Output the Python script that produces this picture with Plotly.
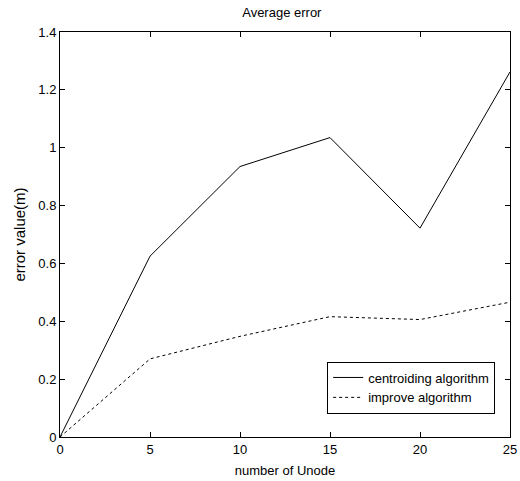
import plotly.graph_objects as go

x_nodes = [0, 5, 10, 15, 20, 25]
centroiding = [0, 0.625, 0.935, 1.035, 0.722, 1.262]
improve = [0, 0.27, 0.348, 0.416, 0.406, 0.466]
x_ticks = [0, 5, 10, 15, 20, 25]
y_ticks = [0, 0.2, 0.4, 0.6, 0.8, 1, 1.2, 1.4]
y_tick_labels = ["0", "0.2", "0.4", "0.6", "0.8", "1", "1.2", "1.4"]

FONT = "Liberation Sans, Arial"

fig = go.Figure()
fig.add_trace(go.Scatter(x=x_nodes, y=centroiding, mode="lines",
                         name="centroiding algorithm",
                         line=dict(color="black", width=1)))
fig.add_trace(go.Scatter(x=x_nodes, y=improve, mode="lines",
                         name="improve algorithm",
                         line=dict(color="black", width=1, dash="3px,3px")))

axis_common = dict(showline=True, linecolor="black", linewidth=1, mirror="ticks",
                   ticks="inside", ticklen=5, tickcolor="black", showgrid=False,
                   zeroline=False, automargin=False,
                   tickfont=dict(family=FONT, size=13, color="black"))

fig.update_layout(
    width=520, height=481,
    margin=dict(l=60, r=10, t=32, b=44),
    paper_bgcolor="white", plot_bgcolor="white",
    font=dict(family=FONT, size=13, color="black"),
    title=dict(text="Average error", x=0.542, xanchor="center",
               yref="container", y=0.974, yanchor="middle",
               font=dict(family=FONT, size=13, color="black")),
    xaxis=dict(range=[0, 25], tickvals=x_ticks,
               title=dict(text="number of Unode", standoff=10,
                          font=dict(family=FONT, size=13, color="black")),
               **axis_common),
    yaxis=dict(range=[0, 1.4], tickvals=y_ticks, ticktext=y_tick_labels,
               title=dict(text="error value(m)", standoff=9,
                          font=dict(family=FONT, size=15, color="black")),
               **axis_common),
    legend=dict(x=0.967, xanchor="right", y=0.058, yanchor="bottom",
                bordercolor="black", borderwidth=1, bgcolor="white",
                font=dict(family=FONT, size=13, color="black"), tracegroupgap=0),
    showlegend=True,
)

fig.write_html("out.html",
               config={"displayModeBar": False},
               post_script="document.body.style.margin='0';document.body.style.padding='0';")
